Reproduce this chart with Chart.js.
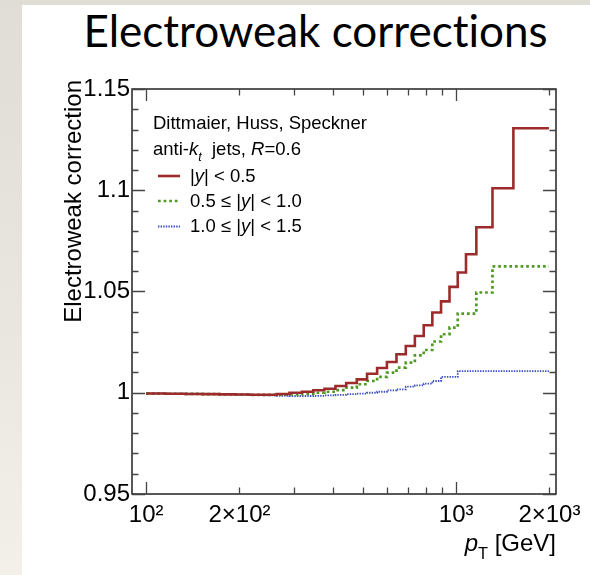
<!DOCTYPE html>
<html>
<head>
<meta charset="utf-8">
<script src="https://cdn.jsdelivr.net/npm/chart.js@4.4.1/dist/chart.umd.min.js"></script>
<style>
  html, body { margin: 0; padding: 0; }
  body {
    width: 590px; height: 575px; position: relative; overflow: hidden;
    background: linear-gradient(180deg, #e0ddd7 0%, #e8e5df 50%, #f3f0e9 100%);
  }
  #slide { position: absolute; left: 22px; top: 5px; right: 0; bottom: 0; background: #fff; }
  #title {
    position: absolute; left: 0; top: 8px; width: 631px; margin: 0;
    text-align: center; font-family: Lato, sans-serif; font-weight: 400;
    font-size: 44px; line-height: 44px; color: #000;
    font-variant-ligatures: none; font-feature-settings: "liga" 0;
  }
  #chart { position: absolute; left: 0; top: 0; }
</style>
</head>
<body>
<div id="slide"></div>
<h1 id="title">Electroweak corrections</h1>
<canvas id="chart" width="590" height="575"></canvas>
<script>
// pT bin edges [GeV]
const binEdges = [100, 116, 134, 152, 172, 194, 216, 240, 264, 290, 318, 346, 376, 408, 442, 478,
  516, 556, 598, 642, 688, 736, 786, 838, 894, 952, 1012, 1076, 1162, 1310, 1530, 1992];

// EW correction factor per bin, one list per rapidity slice
const corrY05 = [0.9996, 0.9995, 0.9994, 0.9993, 0.9992, 0.9991, 0.9990, 0.9990, 0.9994, 1.0000,
  1.0005, 1.0012, 1.0020, 1.0033, 1.0048, 1.0066, 1.0094, 1.0122, 1.0152, 1.0190,
  1.0231, 1.0280, 1.0333, 1.0396, 1.0451, 1.0523, 1.0594, 1.0684, 1.0817, 1.1010, 1.1306];
const corrY10 = [0.9996, 0.9995, 0.9994, 0.9993, 0.9992, 0.9991, 0.9990, 0.9990, 0.9991, 0.9992,
  0.9995, 1.0000, 1.0005, 1.0013, 1.0025, 1.0042, 1.0058, 1.0078, 1.0099, 1.0124,
  1.0149, 1.0185, 1.0211, 1.0253, 1.0289, 1.0322, 1.0391, 1.0391, 1.0495, 1.0624, 1.0624];
const corrY15 = [0.9997, 0.9996, 0.9995, 0.9994, 0.9993, 0.9991, 0.9989, 0.9987, 0.9985, 0.9984,
  0.9984, 0.9985, 0.9987, 0.9990, 0.9993, 0.9996, 1.0000, 1.0005, 1.0012, 1.0017,
  1.0030, 1.0036, 1.0045, 1.0058, 1.0078, 1.0078, 1.0107, 1.0107, 1.0107, 1.0107, 1.0107];

const xTicks = [100, 200, 1000, 2000];
const xTickLabels = ['10²', '2×10²', '10³', '2×10³'];
const xMajorTicks = [100, 1000];
const xMinorTicks = [200, 300, 400, 500, 600, 700, 800, 900, 2000];
const yTicks = [0.95, 1, 1.05, 1.1, 1.15];
const yTickLabels = ['0.95', '1', '1.05', '1.1', '1.15'];

const FONT = '"Liberation Sans", Arial, sans-serif';

// histogram as step line: value of bin i held from edge i to edge i+1
function histPoints(vals) {
  const pts = vals.map((v, i) => ({ x: binEdges[i], y: v }));
  pts.push({ x: binEdges[binEdges.length - 1], y: vals[vals.length - 1] });
  return pts;
}

// text made of runs, some italic, some subscript
function richWidth(ctx, parts, size) {
  let w = 0;
  for (const p of parts) {
    ctx.font = (p.it ? 'italic ' : '') + (p.sub ? size * 0.68 : size) + 'px ' + FONT;
    w += ctx.measureText(p.t).width;
  }
  return w;
}
function drawRich(ctx, x, y, parts, size) {
  for (const p of parts) {
    const fs = p.sub ? size * 0.68 : size;
    ctx.font = (p.it ? 'italic ' : '') + fs + 'px ' + FONT;
    ctx.fillText(p.t, x, y + (p.sub ? size * 0.33 : 0));
    x += ctx.measureText(p.t).width;
  }
}

// box frame with inward ticks on all four sides
const frame = {
  id: 'frame',
  afterDatasetsDraw(chart) {
    const { ctx, chartArea: a, scales: { x, y } } = chart;
    ctx.save();
    ctx.strokeStyle = '#222';
    ctx.lineWidth = 1.5;
    ctx.strokeRect(a.left, a.top, a.right - a.left, a.bottom - a.top);
    ctx.lineWidth = 1.3;
    ctx.strokeStyle = '#444';
    ctx.beginPath();
    for (let k = 0; k <= 20; k++) {
      const py = Math.round(y.getPixelForValue(0.95 + k * 0.01)) + 0.5;
      const len = k % 5 === 0 ? 13 : 6.5;
      ctx.moveTo(a.left, py); ctx.lineTo(a.left + len, py);
      ctx.moveTo(a.right, py); ctx.lineTo(a.right - len, py);
    }
    const xt = (v, len) => {
      const px = Math.round(x.getPixelForValue(v)) + 0.5;
      ctx.moveTo(px, a.bottom); ctx.lineTo(px, a.bottom - len);
      ctx.moveTo(px, a.top); ctx.lineTo(px, a.top + len);
    };
    xMajorTicks.forEach(v => xt(v, 12));
    xMinorTicks.forEach(v => xt(v, 6.5));
    ctx.stroke();
    ctx.restore();
  }
};

// legend block and axis titles
const labels = {
  id: 'labels',
  afterDraw(chart) {
    const { ctx, chartArea: a } = chart;
    ctx.save();
    ctx.fillStyle = '#000';
    ctx.textBaseline = 'alphabetic';
    ctx.textAlign = 'left';

    const fs = 18.5;
    const lx = a.left + 21;
    drawRich(ctx, lx, a.top + 40, [{ t: 'Dittmaier, Huss, Speckner' }], fs);
    drawRich(ctx, lx, a.top + 66, [
      { t: 'anti-' }, { t: 'k', it: true }, { t: 't', it: true, sub: true },
      { t: '  jets, ' }, { t: 'R', it: true }, { t: '=0.6' }
    ], fs);

    const entries = [
      [[{ t: '|' }, { t: 'y', it: true }, { t: '| < 0.5' }], 87],
      [[{ t: '0.5 ≤ |' }, { t: 'y', it: true }, { t: '| < 1.0' }], 112],
      [[{ t: '1.0 ≤ |' }, { t: 'y', it: true }, { t: '| < 1.5' }], 137.5]
    ];
    entries.forEach(([parts, dy], i) => {
      const ds = chart.data.datasets[i];
      const ly = a.top + dy;
      ctx.save();
      ctx.strokeStyle = ds.borderColor;
      ctx.lineWidth = ds.borderWidth;
      ctx.setLineDash(ds.borderDash || []);
      ctx.beginPath();
      ctx.moveTo(lx + 5, ly);
      ctx.lineTo(lx + 27, ly);
      ctx.stroke();
      ctx.restore();
      drawRich(ctx, lx + 37, ly + 5.5, parts, fs);
    });

    // x title, right aligned to the frame
    const xParts = [{ t: 'p', it: true }, { t: 'T', sub: true }, { t: ' [GeV]' }];
    const w = richWidth(ctx, xParts, 24);
    drawRich(ctx, a.right - w, a.bottom + 57, xParts, 24);

    // y title, rotated, ending just above the frame
    ctx.translate(a.left - 51, a.top - 9);
    ctx.rotate(-Math.PI / 2);
    ctx.textAlign = 'right';
    ctx.font = '24px ' + FONT;
    ctx.fillText('Electroweak correction', 0, 0);
    ctx.restore();
  }
};

new Chart(document.getElementById('chart'), {
  type: 'line',
  data: {
    datasets: [
      {
        label: '|y| < 0.5',
        data: histPoints(corrY05),
        borderColor: '#9d2b2b',
        borderWidth: 2.6,
        stepped: true
      },
      {
        label: '0.5 ≤ |y| < 1.0',
        data: histPoints(corrY10),
        borderColor: '#4f9a22',
        borderWidth: 2.7,
        borderDash: [2.7, 2.9],
        stepped: true
      },
      {
        label: '1.0 ≤ |y| < 1.5',
        data: histPoints(corrY15),
        borderColor: '#3a4cc6',
        borderWidth: 1.8,
        borderDash: [1.4, 1.2],
        stepped: true
      }
    ]
  },
  options: {
    responsive: false,
    animation: false,
    devicePixelRatio: 1,
    layout: { padding: { left: 0, top: 89, right: 34, bottom: 0 } },
    elements: {
      point: { radius: 0 },
      line: { fill: false, tension: 0, borderCapStyle: 'butt', borderJoinStyle: 'miter' }
    },
    plugins: { legend: { display: false }, tooltip: { enabled: false } },
    scales: {
      x: {
        type: 'logarithmic',
        min: 90,
        max: 2100,
        afterBuildTicks: s => { s.ticks = xTicks.map(v => ({ value: v })); },
        afterFit: s => { s.height = 81; },
        grid: { display: false, drawTicks: false },
        border: { display: false },
        ticks: {
          autoSkip: false, maxRotation: 0, minRotation: 0, padding: 7,
          color: '#000', font: { family: FONT, size: 24 },
          callback: (v, i) => xTickLabels[i]
        }
      },
      y: {
        type: 'linear',
        min: 0.95,
        max: 1.15,
        afterBuildTicks: s => { s.ticks = yTicks.map(v => ({ value: v })); },
        afterFit: s => { s.width = 132; },
        grid: { display: false, drawTicks: false },
        border: { display: false },
        ticks: {
          padding: 2, color: '#000', font: { family: FONT, size: 24 },
          callback: (v, i) => yTickLabels[i]
        }
      }
    }
  },
  plugins: [frame, labels]
});
</script>
</body>
</html>
